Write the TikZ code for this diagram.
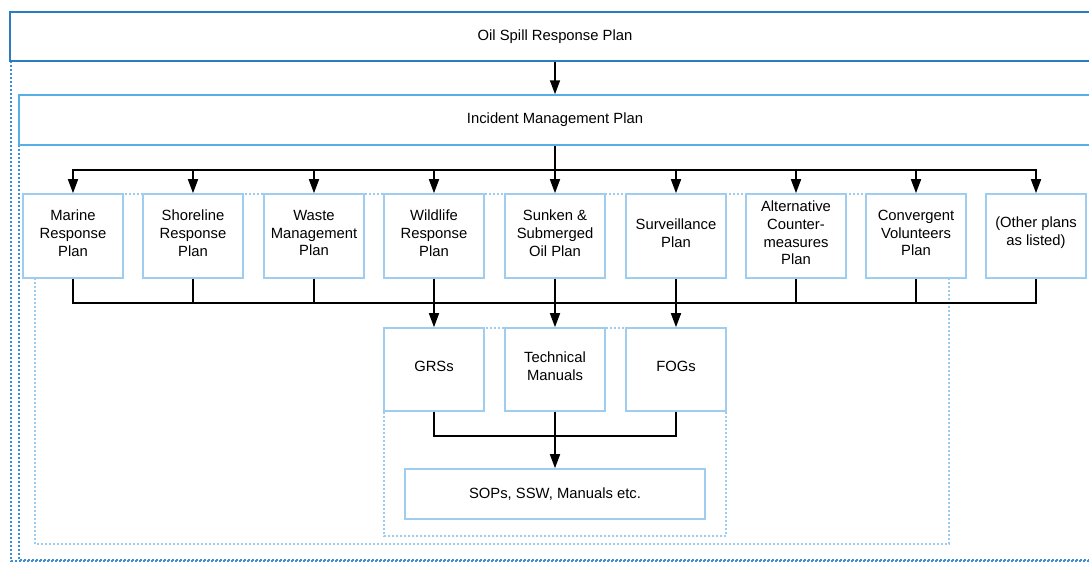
\documentclass[tikz,border=0pt]{standalone}
\usepackage{fontspec}
\setmainfont{Liberation Sans}
\usetikzlibrary{arrows.meta,calc}
\definecolor{topblue}{HTML}{2E7CC0}
\definecolor{midblue}{HTML}{56B0E6}
\definecolor{boxblue}{HTML}{9ECDF0}
\definecolor{dotdark}{HTML}{3D8FD1}
\definecolor{dotlight}{HTML}{9CCBEE}
\tikzset{
  boxtext/.style={align=center,inner sep=0pt,yshift=3pt,font=\fontsize{14.8}{17.8}\selectfont},
  planbox/.style={draw=boxblue,line width=1.6pt,fill=white,minimum width=100pt,minimum height=84pt,
    inner sep=0pt,label={[boxtext]center:{#1}}},
  lowbox/.style={planbox={#1},minimum height=83pt},
  widebox/.style={line width=1.5pt,fill=white,inner sep=0pt,align=center,font=\fontsize{14.8}{17.8}\selectfont},
  conn/.style={line width=1.6pt,black},
  arr/.style={conn,-{Triangle[length=14pt,width=10pt]}},
  dotgroup/.style={draw=dotlight,line width=1.2pt,dash pattern=on 2pt off 2pt},
  dotouter/.style={draw=dotdark,line width=1.3pt,dash pattern=on 2pt off 2pt}
}
\begin{document}
\begin{tikzpicture}[x=1pt,y=-1pt]
\useasboundingbox (0,0) rectangle (1089,568);
\clip (0,0) rectangle (1089,568);
\fill[white] (0,0) rectangle (1089,568);
% dotted groupings
\draw[dotouter] (11,61) -- (11,561) -- (1100,561);
\draw[dotouter] (19,145) -- (19,560) -- (1100,560);
\draw[dotgroup] (35,194) rectangle (949,544);
\draw[dotgroup] (384,328) rectangle (726,536);
% top boxes
\node[widebox,draw=topblue,minimum width=1090pt,minimum height=49pt] (osrp) at (555,36.5) {Oil Spill Response Plan};
\node[widebox,draw=midblue,minimum width=1072pt,minimum height=50pt] (imp) at (555,120) {Incident Management Plan};
% plan row
\node[planbox={Marine\\Response\\Plan}] (b1) at (73,236) {};
\node[planbox={Shoreline\\Response\\Plan}] (b2) at (193,236) {};
\node[planbox={Waste\\Management\\Plan}] (b3) at (314,236) {};
\node[planbox={Wildlife\\Response\\Plan}] (b4) at (434,236) {};
\node[planbox={Sunken \&\\Submerged\\Oil Plan}] (b5) at (555,236) {};
\node[planbox={Surveillance\\Plan}] (b6) at (676,236) {};
\node[planbox={Alternative\\Counter-\\measures\\Plan}] (b7) at (796,236) {};
\node[planbox={Convergent\\Volunteers\\Plan}] (b8) at (916,236) {};
\node[planbox={(Other plans\\as listed)}] (b9) at (1036,236) {};
% lower row
\node[lowbox={GRSs}] (grs) at (434,369.5) {};
\node[lowbox={Technical\\Manuals}] (tm) at (555,369.5) {};
\node[lowbox={FOGs}] (fog) at (676,369.5) {};
\node[widebox,draw=boxblue,line width=1.6pt,minimum width=300pt,minimum height=50pt] (sop) at (555,494) {SOPs, SSW, Manuals etc.};
% connectors
\coordinate (bus1) at (555,170);
\coordinate (bus2) at (555,303);
\coordinate (bus3) at (555,436);
\draw[arr] (osrp.south) -- (imp.north);
\draw[conn] (imp.south) -- (bus1);
\foreach \b in {b1,b2,b3,b4,b5,b6,b7,b8,b9}{
  \draw[arr] (bus1) -| (\b.north);
  \draw[conn] (\b.south) |- (bus2);
}
\draw[arr] (bus2) -| (grs.north);
\draw[arr] (bus2) -- (tm.north);
\draw[arr] (bus2) -| (fog.north);
\draw[conn] (grs.south) |- (bus3);
\draw[conn] (fog.south) |- (bus3);
\draw[arr] (tm.south) -- (sop.north);
\end{tikzpicture}
\end{document}
